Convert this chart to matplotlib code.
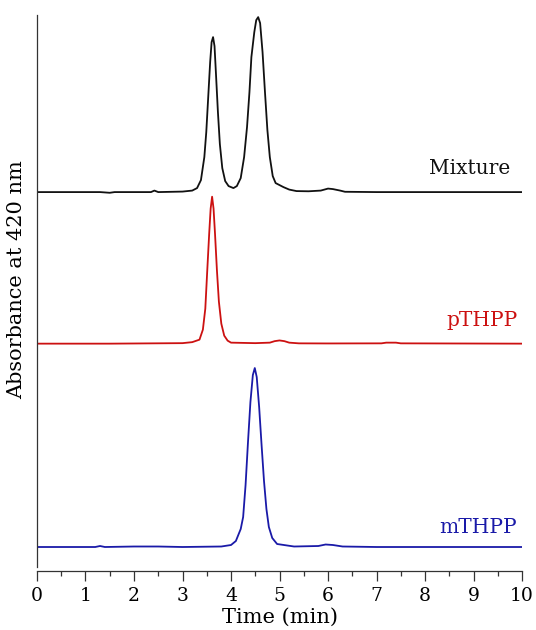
import numpy as np
import matplotlib
matplotlib.use("Agg")
import matplotlib.pyplot as plt
from matplotlib.ticker import MultipleLocator

# HPLC traces, absorbance at 420 nm (arbitrary units above each baseline)
mix_t = [0.0, 1.3, 1.5, 1.6, 2.35, 2.42, 2.5, 3.0, 3.2, 3.3, 3.38, 3.45, 3.49,
         3.53, 3.57, 3.6, 3.63, 3.66, 3.69, 3.73, 3.77, 3.82, 3.88, 3.95, 4.05,
         4.12, 4.2, 4.27, 4.33, 4.38, 4.42, 4.48, 4.52, 4.56, 4.6, 4.65, 4.7,
         4.75, 4.8, 4.86, 4.92, 5.0, 5.08, 5.2, 5.35, 5.6, 5.85, 6.0, 6.1,
         6.25, 6.35, 7.0, 10.0]
mix_a = [0, 0, -0.7, 0, 0, 1.5, 0, 0.5, 1.5, 4, 12, 35, 60,
         95, 130, 150, 155, 146, 118, 80, 48, 24, 11, 6, 4,
         6, 14, 35, 65, 100, 135, 160, 172, 175, 169, 140, 100,
         62, 35, 16, 9, 7, 5, 2.5, 1, 0.8, 1.5, 3.5, 3,
         1.5, 0.3, 0, 0]

p_t = [0.0, 1.5, 3.0, 3.2, 3.35, 3.42, 3.47, 3.51, 3.55, 3.58, 3.61, 3.64,
       3.67, 3.71, 3.75, 3.8, 3.86, 3.93, 4.0, 4.5, 4.8, 4.9, 5.0, 5.1, 5.2,
       5.4, 6.0, 7.1, 7.2, 7.4, 7.5, 10.0]
p_a = [0, 0, 0.5, 1.5, 4, 14, 35, 73, 110, 135, 147, 135,
       110, 73, 42, 20, 8, 3, 1, 0.5, 1, 2.5, 3.2, 2.5, 1,
       0.3, 0.2, 0.3, 1, 1, 0.3, 0]

m_t = [0.0, 1.2, 1.3, 1.4, 2.0, 2.5, 3.0, 3.8, 4.0, 4.1, 4.2, 4.25, 4.3,
       4.35, 4.4, 4.45, 4.49, 4.53, 4.58, 4.63, 4.68, 4.73, 4.78, 4.85,
       4.95, 5.3, 5.8, 5.95, 6.1, 6.3, 7.0, 10.0]
m_a = [0, 0, 1, 0, 0.5, 0.5, 0, 0.5, 2, 6, 18, 30, 62,
       105, 145, 172, 179, 170, 140, 102, 66, 38, 20, 9,
       3, 0.5, 1, 2.5, 2, 0.5, 0, 0]

names = ["Mixture", "pTHPP", "mTHPP"]
offsets = [355, 203.4, 0]
colors = ["#111111", "#cc1111", "#1a1aa8"]
label_x = [9.75, 9.9, 9.9]
label_y = [378.7, 226.7, 19.7]

plt.rcParams["font.family"] = ["DejaVu Serif"]

fig = plt.figure(figsize=(5.36, 6.3), dpi=100)
ax = fig.add_axes([0.069, 0.1, 0.905, 0.876])

traces = [(mix_t, mix_a), (p_t, p_a), (m_t, m_a)]
for (t, a), off, c, name, lx, ly in zip(traces, offsets, colors, names,
                                        label_x, label_y):
    ax.plot(t, np.array(a) + off, color=c, lw=1.3)
    ax.text(lx, ly, name, color=c, ha="right", va="center", fontsize=14.5)

ax.set_xlim(0, 10)
ax.set_ylim(-20, 532)
ax.spines["top"].set_visible(False)
ax.spines["right"].set_visible(False)
ax.spines["bottom"].set_position(("outward", 3))
for s in ("left", "bottom"):
    ax.spines[s].set_color("#333333")
    ax.spines[s].set_linewidth(0.9)

ax.set_yticks([])
ax.xaxis.set_major_locator(MultipleLocator(1))
ax.xaxis.set_minor_locator(MultipleLocator(0.5))
ax.tick_params(axis="x", which="major", length=7.2, width=0.9,
               color="#333333", labelsize=13.5, pad=4)
ax.tick_params(axis="x", which="minor", length=3.6, width=0.9,
               color="#333333")

ax.set_xlabel("Time (min)", fontsize=15, labelpad=2)
ax.set_ylabel("Absorbance at 420 nm", fontsize=15)
ax.yaxis.set_label_coords(-0.023, 0.52)

fig.savefig("out.png", dpi=100)
